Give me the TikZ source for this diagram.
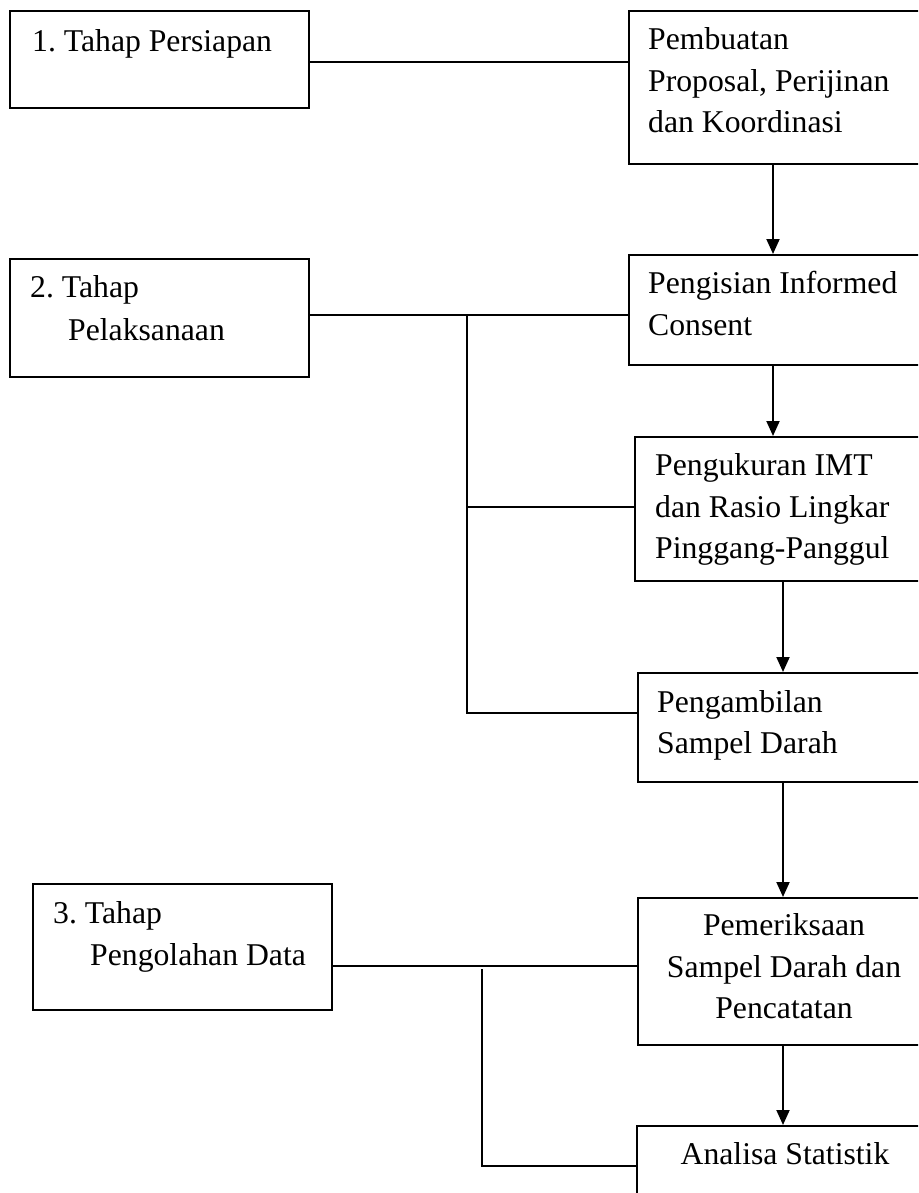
\documentclass[tikz,border=0pt]{standalone}
\usepackage{fontspec}
\setmainfont{Liberation Serif}
\usetikzlibrary{arrows.meta}
\frenchspacing
\begin{document}
\begin{tikzpicture}[x=1pt,y=-1pt,
  box/.style={draw,line width=1.9pt,inner sep=0pt,anchor=north west},
  txt/.style={inner sep=0pt,font=\fontsize{31.7}{38}\selectfont\frenchspacing},
  ln/.style={line width=1.7pt},
  arr/.style={line width=1.9pt,-{Triangle[length=15pt,width=13pt]}}]
\useasboundingbox (0,0) rectangle (918,1193);
\clip (0,0) rectangle (918,1193);
% boxes
\node[box,minimum width=299pt,minimum height=97pt]  (b1) at (9,10) {};
\node[box,minimum width=310pt,minimum height=153pt] (p1) at (628,10) {};
\node[box,minimum width=299pt,minimum height=118pt] (b2) at (9,258) {};
\node[box,minimum width=310pt,minimum height=110pt] (p2) at (628,254) {};
\node[box,minimum width=304pt,minimum height=144pt] (p3) at (634,436) {};
\node[box,minimum width=301pt,minimum height=109pt] (p4) at (637,672) {};
\node[box,minimum width=299pt,minimum height=126pt] (b3) at (32,883) {};
\node[box,minimum width=301pt,minimum height=147pt] (p5) at (637,897) {};
\node[box,minimum width=302pt,minimum height=130pt] (p6) at (636,1125) {};
% texts
\node[txt,anchor=base west] (t1)  at (32,52) {1. Tahap Persiapan};
\node[txt,anchor=base west] (t2a) at (30,297) {2. Tahap};
\node[txt,anchor=base west] (t2b) at (68,340) {Pelaksanaan};
\node[txt,anchor=base west] (t3a) at (53,923) {3. Tahap};
\node[txt,anchor=base west] (t3b) at (90,965) {Pengolahan Data};
\node[txt,anchor=base west] (q1a) at (648,50) {Pembuatan};
\node[txt,anchor=base west] (q1b) at (648,92) {Proposal, Perijinan};
\node[txt,anchor=base west] (q1c) at (648,133) {dan Koordinasi};
\node[txt,anchor=base west] (q2a) at (648,293) {Pengisian Informed};
\node[txt,anchor=base west] (q2b) at (648,335) {Consent};
\node[txt,anchor=base west] (q3a) at (655,475) {Pengukuran IMT};
\node[txt,anchor=base west] (q3b) at (655,517) {dan Rasio Lingkar};
\node[txt,anchor=base west] (q3c) at (655,558) {Pinggang-Panggul};
\node[txt,anchor=base west] (q4a) at (657,712) {Pengambilan};
\node[txt,anchor=base west] (q4b) at (657,753) {Sampel Darah};
\node[txt,anchor=base] (q5a) at (784,935) {Pemeriksaan};
\node[txt,anchor=base] (q5b) at (784,977) {Sampel Darah dan};
\node[txt,anchor=base] (q5c) at (784,1018) {Pencatatan};
\node[txt,anchor=base] (q6)  at (785,1164) {Analisa Statistik};
% junction coordinates
\coordinate (j1) at (308,62);
\coordinate (j2) at (467,315);
\coordinate (j3) at (467,507);
\coordinate (j4) at (467,713);
\coordinate (j5) at (331,966);
\coordinate (j6) at (482,969);
\coordinate (j7) at (482,1166);
\coordinate (ax1) at (773,0);
\coordinate (ax2) at (783,0);
% connectors
\draw[ln] (j1) -- (j1 -| p1.west);
\draw[ln] (b2.east |- j2) -- (j2 -| p2.west);
\draw[ln] (j2) -- (j4) -- (j4 -| p4.west);
\draw[ln] (j3) -- (j3 -| p3.west);
\draw[ln] (j5) -- (j5 -| p5.west);
\draw[ln] (j6) -- (j7) -- (j7 -| p6.west);
% arrows
\draw[arr] (p1.south -| ax1) -- (p2.north -| ax1);
\draw[arr] (p2.south -| ax1) -- (p3.north -| ax1);
\draw[arr] (p3.south -| ax2) -- (p4.north -| ax2);
\draw[arr] (p4.south -| ax2) -- (p5.north -| ax2);
\draw[arr] (p5.south -| ax2) -- (p6.north -| ax2);
\end{tikzpicture}
\end{document}
